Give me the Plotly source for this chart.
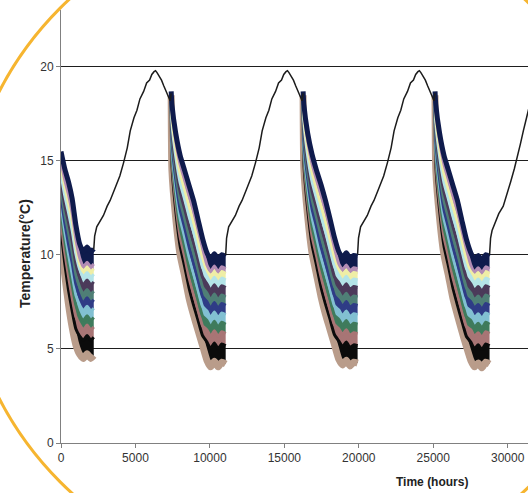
import plotly.graph_objects as go

# ---------------- data ----------------
x_ticks = [0, 5000, 10000, 15000, 20000, 25000, 30000, 35000]
x_tick_text = ["0", "5000", "10000", "15000", "20000", "25000", "30000", "35000"]
y_ticks = [0, 5, 10, 15, 20]

# cooling-phase sample times (hours) for the four visible cooling periods
hours_c1 = [0, 250, 500, 750, 1000, 1250, 1500, 1750, 2000, 2200]
hours_c2 = [7400, 7450, 7700, 8000, 8300, 8600, 8900, 9200, 9500, 9800, 10050, 10300, 10550, 10800, 11060]
hours_c3 = [16260, 16310, 16560, 16860, 17160, 17460, 17760, 18060, 18360, 18660, 18910, 19160, 19410, 19660, 19920]
hours_c4 = [25120, 25170, 25420, 25720, 26020, 26320, 26620, 26920, 27220, 27520, 27770, 28020, 28270, 28520, 28780]

# temperatures of each series during cooling (C1 | C2 | C3 | C4), bottom to top
tan = [10.8, 8.94, 7.39, 6.15, 5.22, 4.72, 4.5, 4.75, 4.5, 4.65, None,
       18.5, 14.5, 12.0, 10.0, 8.9, 7.7, 6.8, 6.0, 5.2, 4.4, 4.05, 4.35, 4.05, 4.3, 4.2, None,
       18.5, 14.6, 12.1, 10.1, 8.95, 7.8, 6.85, 6.05, 5.25, 4.45, 4.15, 4.4, 4.1, 4.3, 4.25, None,
       18.5, 14.5, 12.0, 10.0, 8.9, 7.7, 6.8, 5.95, 5.15, 4.4, 4.05, 4.25, 4.0, 4.3, 4.2]
black = [11.3, 9.57, 8.15, 7.02, 6.06, 5.69, 5.47, 5.72, 5.47, 5.62, None,
         18.5, 14.82, 12.41, 10.48, 9.41, 8.25, 7.35, 6.54, 5.72, 5.37, 5.02, 5.32, 5.02, 5.27, 5.17, None,
         18.5, 14.9, 12.5, 10.55, 9.45, 8.3, 7.4, 6.6, 5.77, 5.42, 5.12, 5.37, 5.07, 5.22, 5.17, None,
         18.5, 14.82, 12.41, 10.48, 9.41, 8.25, 7.35, 6.5, 5.68, 5.37, 5.02, 5.22, 4.97, 5.27, 5.17]
mauve = [11.8, 10.16, 8.88, 7.71, 6.71, 6.3, 6.02, 6.27, 6.02, 6.17, None,
         18.5, 15.14, 12.82, 10.96, 9.92, 8.79, 7.91, 7.07, 6.24, 6.02, 5.67, 5.97, 5.67, 5.92, 5.82, None,
         18.5, 15.2, 12.9, 11.0, 9.95, 8.85, 7.95, 7.1, 6.3, 6.07, 5.77, 6.02, 5.72, 5.87, 5.82, None,
         18.5, 15.14, 12.82, 10.96, 9.92, 8.79, 7.91, 7.03, 6.2, 6.02, 5.67, 5.87, 5.62, 5.92, 5.82]
green = [12.3, 10.78, 9.49, 8.38, 7.33, 6.8, 6.52, 6.77, 6.52, 6.67, None,
         18.5, 15.45, 13.23, 11.45, 10.43, 9.34, 8.46, 7.61, 6.76, 6.52, 6.17, 6.47, 6.17, 6.42, 6.32, None,
         18.5, 15.5, 13.3, 11.5, 10.45, 9.4, 8.5, 7.65, 6.8, 6.57, 6.27, 6.52, 6.22, 6.37, 6.32, None,
         18.5, 15.45, 13.23, 11.45, 10.43, 9.34, 8.46, 7.57, 6.72, 6.52, 6.17, 6.37, 6.12, 6.42, 6.32]
lightblue = [12.7, 11.26, 10.06, 8.96, 7.87, 7.35, 7.02, 7.27, 7.02, 7.17, None,
             18.5, 15.77, 13.64, 11.93, 10.94, 9.88, 9.02, 8.15, 7.27, 7.02, 6.67, 6.97, 6.67, 6.92, 6.82, None,
             18.5, 15.8, 13.7, 12.0, 10.95, 9.9, 9.05, 8.2, 7.3, 7.07, 6.77, 7.02, 6.72, 6.87, 6.82, None,
             18.5, 15.77, 13.64, 11.93, 10.94, 9.88, 9.02, 8.1, 7.23, 7.02, 6.67, 6.87, 6.62, 6.92, 6.82]
blue = [13.1, 11.73, 10.59, 9.57, 8.43, 7.8, 7.47, 7.72, 7.47, 7.62, None,
        18.5, 16.09, 14.05, 12.41, 11.45, 10.43, 9.57, 8.68, 7.79, 7.52, 7.17, 7.47, 7.17, 7.42, 7.32, None,
        18.5, 16.1, 14.1, 12.45, 11.5, 10.45, 9.6, 8.7, 7.85, 7.57, 7.27, 7.52, 7.22, 7.37, 7.32, None,
        18.5, 16.09, 14.05, 12.41, 11.45, 10.43, 9.57, 8.64, 7.75, 7.52, 7.17, 7.37, 7.12, 7.42, 7.32]
teal = [13.5, 12.21, 11.2, 10.14, 8.96, 8.3, 7.92, 8.17, 7.92, 8.07, None,
        18.5, 16.41, 14.45, 12.89, 11.95, 10.97, 10.13, 9.22, 8.31, 7.97, 7.62, 7.92, 7.62, 7.87, 7.77, None,
        18.5, 16.45, 14.5, 12.95, 12.0, 11.0, 10.15, 9.25, 8.35, 8.02, 7.72, 7.97, 7.67, 7.82, 7.77, None,
        18.5, 16.41, 14.45, 12.89, 11.95, 10.97, 10.13, 9.18, 8.27, 7.97, 7.62, 7.82, 7.57, 7.87, 7.77]
purple = [13.9, 12.68, 11.74, 10.74, 9.52, 8.8, 8.42, 8.67, 8.42, 8.57, None,
          18.5, 16.73, 14.86, 13.37, 12.46, 11.52, 10.68, 9.75, 8.83, 8.47, 8.12, 8.42, 8.12, 8.37, 8.27, None,
          18.5, 16.75, 14.9, 13.4, 12.5, 11.55, 10.7, 9.8, 8.85, 8.52, 8.22, 8.47, 8.17, 8.32, 8.27, None,
          18.5, 16.73, 14.86, 13.37, 12.46, 11.52, 10.68, 9.71, 8.79, 8.47, 8.12, 8.32, 8.07, 8.37, 8.27]
cyan = [14.3, 13.16, 12.28, 11.3, 10.05, 9.25, 8.82, 9.07, 8.82, 8.97, None,
        18.5, 17.05, 15.27, 13.85, 12.97, 12.06, 11.24, 10.29, 9.35, 8.87, 8.52, 8.82, 8.52, 8.77, 8.67, None,
        18.5, 17.1, 15.3, 13.9, 13.0, 12.1, 11.25, 10.3, 9.4, 8.92, 8.62, 8.87, 8.57, 8.72, 8.67, None,
        18.5, 17.05, 15.27, 13.85, 12.97, 12.06, 11.24, 10.25, 9.31, 8.87, 8.52, 8.72, 8.47, 8.77, 8.67]
yellow = [14.7, 13.65, 12.76, 11.81, 10.48, 9.55, 9.12, 9.37, 9.12, 9.27, None,
          18.5, 17.36, 15.68, 14.34, 13.48, 12.61, 11.79, 10.83, 9.86, 9.22, 8.87, 9.17, 8.87, 9.12, 9.02, None,
          18.5, 17.4, 15.7, 14.4, 13.5, 12.65, 11.8, 10.85, 9.9, 9.27, 8.97, 9.22, 8.92, 9.07, 9.02, None,
          18.5, 17.36, 15.68, 14.34, 13.48, 12.61, 11.79, 10.79, 9.82, 9.22, 8.87, 9.07, 8.82, 9.12, 9.02]
pink = [15.0, 14.0, 13.22, 12.23, 10.84, 9.86, 9.37, 9.62, 9.37, 9.52, None,
        18.5, 17.68, 16.09, 14.82, 13.99, 13.15, 12.35, 11.36, 10.38, 9.47, 9.12, 9.42, 9.12, 9.37, 9.27, None,
        18.5, 17.7, 16.1, 14.85, 14.0, 13.2, 12.4, 11.4, 10.4, 9.52, 9.22, 9.47, 9.17, 9.32, 9.27, None,
        18.5, 17.68, 16.09, 14.82, 13.99, 13.15, 12.35, 11.32, 10.34, 9.47, 9.12, 9.32, 9.07, 9.37, 9.27]
navy = [15.5, 14.59, 13.9, 12.99, 11.59, 10.6, 10.17, 10.42, 10.17, 10.32, None,
        18.7, 18.0, 16.5, 15.3, 14.5, 13.7, 12.9, 11.9, 10.9, 10.12, 9.77, 10.07, 9.77, 10.02, 9.92, None,
        18.7, 18.0, 16.5, 15.35, 14.5, 13.75, 12.9, 11.95, 10.95, 10.17, 9.87, 10.12, 9.82, 9.97, 9.92, None,
        18.7, 18.0, 16.5, 15.3, 14.5, 13.7, 12.9, 11.85, 10.85, 10.12, 9.77, 9.97, 9.72, 10.02, 9.92]

# warming phase: all series share one curve
warm_hours_1 = [2200, 2260, 2400, 2600, 2850, 3100, 3300, 3600, 3950, 4200, 4450, 4650, 4900, 5100,
                5300, 5550, 5750, 5950, 6100, 6250, 6350, 6450, 6600, 6750, 6900, 7100, 7250, 7330, 7400]
warm_temp_1 = [10.3, 11.0, 11.5, 11.8, 12.1, 12.6, 12.9, 13.5, 14.2, 14.9, 15.7, 16.6, 17.3, 17.7,
               18.3, 18.7, 19.15, 19.3, 19.6, 19.75, 19.8, 19.7, 19.5, 19.3, 19.0, 18.6, 18.4, 18.2, 18.6]
warm_hours_2 = [11060, 11120, 11260, 11460, 11710, 11960, 12160, 12460, 12810, 13060, 13310, 13510, 13760, 13960,
                14160, 14410, 14610, 14810, 14960, 15110, 15210, 15310, 15460, 15610, 15760, 15960, 16110, 16190, 16260]
warm_temp_2 = [10.0, 10.9, 11.5, 11.8, 12.1, 12.6, 12.9, 13.5, 14.2, 14.9, 15.7, 16.6, 17.3, 17.7,
               18.3, 18.7, 19.15, 19.3, 19.6, 19.75, 19.8, 19.7, 19.5, 19.3, 19.0, 18.6, 18.4, 18.2, 18.6]
warm_hours_3 = [19920, 19980, 20120, 20320, 20570, 20820, 21020, 21320, 21670, 21920, 22170, 22370, 22620, 22820,
                23020, 23270, 23470, 23670, 23820, 23970, 24070, 24170, 24320, 24470, 24620, 24820, 24970, 25050, 25120]
warm_temp_3 = [10.05, 10.9, 11.5, 11.8, 12.1, 12.6, 12.9, 13.5, 14.2, 14.9, 15.7, 16.6, 17.3, 17.7,
               18.3, 18.7, 19.15, 19.3, 19.6, 19.75, 19.8, 19.7, 19.5, 19.3, 19.0, 18.6, 18.4, 18.2, 18.6]
warm_hours_4 = [28780, 28850, 28950, 29150, 29400, 29700, 29950, 30200, 30450, 30650, 30850, 31050, 31250, 31450]
warm_temp_4 = [10.0, 10.9, 11.3, 11.7, 12.2, 12.6, 13.2, 13.9, 14.6, 15.2, 15.9, 16.6, 17.3, 17.9]

# ---------------- figure ----------------
def split_none(values):
    parts, cur = [], []
    for v in values:
        if v is None:
            parts.append(cur)
            cur = []
        else:
            cur.append(v)
    parts.append(cur)
    return parts

cycle_hours = [hours_c1, hours_c2, hours_c3, hours_c4]
warm_hours = warm_hours_1 + [None] + warm_hours_2 + [None] + warm_hours_3 + [None] + warm_hours_4
warm_temp = warm_temp_1 + [None] + warm_temp_2 + [None] + warm_temp_3 + [None] + warm_temp_4

series = [
    ("tan", tan, "#b99c8a", 7),
    ("black", black, "#0b0b0b", 3),
    ("mauve", mauve, "#a87575", 3),
    ("green", green, "#3f7b5c", 3),
    ("lightblue", lightblue, "#82c0d2", 3),
    ("blue", blue, "#2f3c86", 3),
    ("teal", teal, "#4f7f76", 3),
    ("purple", purple, "#4b3a5a", 3),
    ("cyan", cyan, "#b4e4e8", 3),
    ("yellow", yellow, "#efeea6", 3),
    ("pink", pink, "#b28cb4", 3),
    ("navy", navy, "#0f1b4c", 5),
]

fig = go.Figure()
split_series = [(name, split_none(vals), color, w) for name, vals, color, w in series]
for c, hrs in enumerate(cycle_hours):
    for i, (name, parts, color, w) in enumerate(split_series):
        fig.add_trace(go.Scatter(x=hrs, y=parts[c], mode="lines", name=name,
                                 line=dict(color=color, width=w, shape="spline", smoothing=0.5),
                                 fill=None if i == 0 else "tonexty", fillcolor=color,
                                 hoverinfo="skip"))
fig.add_trace(go.Scatter(x=warm_hours, y=warm_temp, mode="lines", name="warming",
                         line=dict(color="#1c1c1c", width=1.5), hoverinfo="skip"))

font = "Liberation Sans, Arial, sans-serif"
fig.update_layout(
    width=528, height=493,
    margin=dict(l=61, r=0, t=10, b=50),
    plot_bgcolor="white", paper_bgcolor="white",
    showlegend=False,
    font=dict(family=font, color="#333333"),
)
fig.update_xaxes(range=[0, 31363], tickvals=x_ticks, ticktext=x_tick_text, showgrid=False, zeroline=False,
                 showline=True, linecolor="#808080", linewidth=1,
                 ticks="outside", ticklen=4, tickcolor="#808080",
                 tickfont=dict(family=font, size=12, color="#333333"))
fig.update_yaxes(range=[0, 23.03], tickvals=y_ticks, showgrid=True, gridcolor="#1e1e1e", gridwidth=1,
                 zeroline=False, showline=True, linecolor="#808080", linewidth=1,
                 ticks="outside", ticklen=4, tickcolor="#808080",
                 tickfont=dict(family=font, size=12, color="#333333"))

fig.add_annotation(text="<b>Temperature(°C)</b>", xref="paper", yref="paper",
                   x=-0.0771, y=0.4388, xanchor="center", yanchor="middle",
                   textangle=-90, showarrow=False,
                   font=dict(family=font, size=14, color="#222222"))
fig.add_annotation(text="<b>Time (hours)</b>", xref="paper", yref="paper",
                   x=0.794, y=-0.09, xanchor="center", yanchor="middle", showarrow=False,
                   font=dict(family=font, size=12, color="#222222"))

fig.add_shape(type="circle", xref="paper", yref="paper",
              x0=-0.212, x1=1.2227, y0=-0.3164, y1=1.231,
              line=dict(color="#F6B530", width=3), layer="above")

fig.write_html("out.html", config={"displayModeBar": False},
               post_script="document.body.style.margin='0px';")
